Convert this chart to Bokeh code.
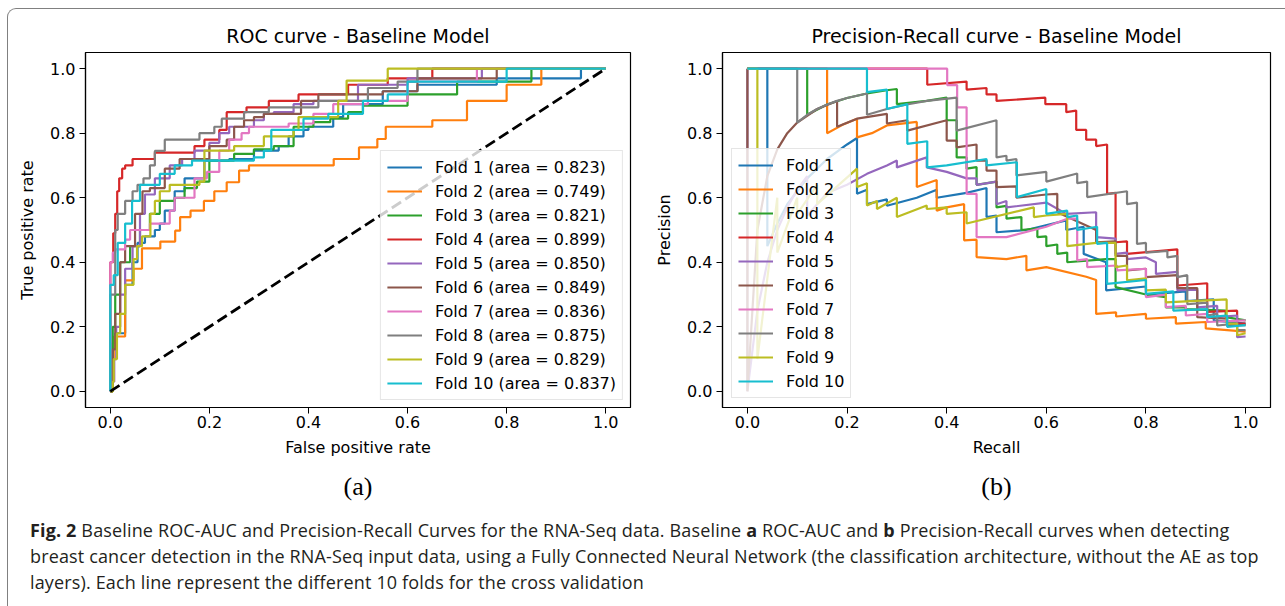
from bokeh.plotting import figure
from bokeh.models import Range1d, FixedTicker, PrintfTickFormatter, Title, Div
from bokeh.layouts import row, column
from bokeh.embed import file_html
from bokeh.resources import INLINE

# ---------------- data ----------------
fold_names = ["Fold 1", "Fold 2", "Fold 3", "Fold 4", "Fold 5",
              "Fold 6", "Fold 7", "Fold 8", "Fold 9", "Fold 10"]
roc_areas = ["0.823", "0.749", "0.821", "0.899", "0.850",
             "0.849", "0.836", "0.875", "0.829", "0.837"]
fold_colors = ["#1f77b4", "#ff7f0e", "#2ca02c", "#d62728", "#9467bd",
               "#8c564b", "#e377c2", "#7f7f7f", "#bcbd22", "#17becf"]
axis_ticks = [0.0, 0.2, 0.4, 0.6, 0.8, 1.0]
chance_x = [0.0, 1.0]
chance_y = [0.0, 1.0]

# ROC curves (top of every vertical jump: false positive rate, true positive rate)
roc_fpr_1 = [0, 0.005, 0.01, 0.03, 0.045, 0.055, 0.07, 0.09, 0.10, 0.11, 0.13, 0.15, 0.19, 0.24, 0.29, 0.34, 0.36, 0.39, 0.40, 0.45, 0.47, 0.55, 0.62, 0.78, 0.95, 1.0]
roc_tpr_1 = [0, 0.15, 0.18, 0.33, 0.40, 0.46, 0.48, 0.50, 0.52, 0.56, 0.62, 0.66, 0.715, 0.72, 0.746, 0.76, 0.79, 0.81, 0.82, 0.85, 0.89, 0.93, 0.95, 0.97, 1.0, 1.0]
roc_fpr_2 = [0, 0.005, 0.007, 0.03, 0.047, 0.064, 0.101, 0.131, 0.141, 0.162, 0.189, 0.21, 0.235, 0.26, 0.28, 0.451, 0.502, 0.539, 0.556, 0.65, 0.72, 0.80, 0.87, 1.0]
roc_tpr_2 = [0, 0.10, 0.17, 0.344, 0.38, 0.443, 0.464, 0.498, 0.54, 0.56, 0.59, 0.62, 0.648, 0.684, 0.70, 0.72, 0.756, 0.782, 0.82, 0.84, 0.90, 0.95, 1.0, 1.0]
roc_fpr_3 = [0, 0.005, 0.01, 0.02, 0.04, 0.06, 0.08, 0.10, 0.13, 0.15, 0.175, 0.20, 0.25, 0.29, 0.33, 0.37, 0.41, 0.444, 0.48, 0.51, 0.60, 0.70, 0.85, 1.0]
roc_tpr_3 = [0, 0.20, 0.30, 0.40, 0.45, 0.50, 0.55, 0.59, 0.60, 0.63, 0.65, 0.715, 0.736, 0.75, 0.76, 0.82, 0.834, 0.845, 0.865, 0.885, 0.92, 0.96, 1.0, 1.0]
roc_fpr_4 = [0, 0, 0.006, 0.010, 0.014, 0.018, 0.024, 0.030, 0.045, 0.09, 0.17, 0.19, 0.22, 0.235, 0.275, 0.32, 0.38, 0.48, 0.56, 0.65, 1.0]
roc_tpr_4 = [0, 0.40, 0.49, 0.55, 0.62, 0.66, 0.69, 0.70, 0.72, 0.74, 0.76, 0.78, 0.81, 0.865, 0.88, 0.90, 0.92, 0.95, 0.97, 1.0, 1.0]
roc_fpr_5 = [0, 0.003, 0.008, 0.012, 0.02, 0.03, 0.045, 0.06, 0.07, 0.09, 0.12, 0.145, 0.17, 0.20, 0.22, 0.24, 0.29, 0.31, 0.33, 0.37, 0.41, 0.50, 0.60, 0.75, 1.0]
roc_tpr_5 = [0, 0.03, 0.10, 0.20, 0.30, 0.38, 0.45, 0.55, 0.61, 0.66, 0.70, 0.72, 0.746, 0.77, 0.80, 0.82, 0.84, 0.86, 0.865, 0.89, 0.90, 0.95, 0.97, 1.0, 1.0]
roc_fpr_6 = [0, 0.005, 0.01, 0.02, 0.03, 0.05, 0.065, 0.08, 0.11, 0.14, 0.20, 0.235, 0.25, 0.27, 0.29, 0.31, 0.385, 0.42, 0.55, 0.62, 0.78, 1.0]
roc_tpr_6 = [0, 0.13, 0.24, 0.40, 0.45, 0.55, 0.62, 0.63, 0.69, 0.72, 0.76, 0.78, 0.82, 0.84, 0.85, 0.86, 0.90, 0.92, 0.93, 0.97, 1.0, 1.0]
roc_fpr_7 = [0, 0, 0.005, 0.01, 0.03, 0.04, 0.08, 0.12, 0.13, 0.17, 0.195, 0.22, 0.24, 0.265, 0.28, 0.36, 0.41, 0.45, 0.52, 0.60, 0.74, 1.0]
roc_tpr_7 = [0, 0.40, 0.43, 0.44, 0.47, 0.50, 0.52, 0.56, 0.60, 0.66, 0.68, 0.746, 0.78, 0.80, 0.82, 0.83, 0.86, 0.89, 0.90, 0.96, 1.0, 1.0]
roc_fpr_8 = [0, 0, 0.01, 0.015, 0.03, 0.045, 0.055, 0.067, 0.08, 0.09, 0.11, 0.18, 0.21, 0.225, 0.27, 0.32, 0.42, 0.52, 0.58, 0.62, 1.0]
roc_tpr_8 = [0, 0.30, 0.50, 0.55, 0.59, 0.62, 0.64, 0.66, 0.70, 0.745, 0.78, 0.80, 0.82, 0.845, 0.865, 0.88, 0.90, 0.94, 0.96, 1.0, 1.0]
roc_fpr_9 = [0, 0.005, 0.007, 0.0135, 0.02, 0.03, 0.047, 0.054, 0.064, 0.081, 0.09, 0.10, 0.12, 0.18, 0.19, 0.25, 0.31, 0.37, 0.38, 0.45, 0.46, 0.477, 0.56, 1.0]
roc_tpr_9 = [0, 0.03, 0.10, 0.18, 0.24, 0.33, 0.41, 0.45, 0.48, 0.55, 0.59, 0.62, 0.64, 0.65, 0.746, 0.76, 0.79, 0.81, 0.85, 0.85, 0.90, 0.963, 1.0, 1.0]
roc_fpr_10 = [0, 0, 0.007, 0.015, 0.03, 0.044, 0.06, 0.10, 0.13, 0.165, 0.29, 0.31, 0.325, 0.39, 0.44, 0.51, 0.56, 0.60, 0.80, 1.0]
roc_tpr_10 = [0, 0.33, 0.36, 0.46, 0.52, 0.59, 0.64, 0.674, 0.70, 0.715, 0.725, 0.746, 0.81, 0.845, 0.86, 0.90, 0.92, 0.96, 1.0, 1.0]

# Precision-Recall curves (recall, precision)
pr_rec_1 = [0, 0.04, 0.04, 0.06, 0.08, 0.10, 0.12, 0.16, 0.20, 0.22, 0.22, 0.24, 0.24, 0.28, 0.28, 0.34, 0.38, 0.38, 0.44, 0.48, 0.48, 0.50, 0.50, 0.56, 0.64, 0.64, 0.675, 0.675, 0.72, 0.72, 0.80, 0.80, 0.88, 0.88, 0.936, 0.936, 1.0]
pr_pre_1 = [1, 1, 0.45, 0.52, 0.58, 0.62, 0.66, 0.72, 0.765, 0.785, 0.612, 0.625, 0.58, 0.595, 0.575, 0.60, 0.625, 0.60, 0.615, 0.63, 0.54, 0.545, 0.493, 0.50, 0.53, 0.50, 0.51, 0.426, 0.40, 0.313, 0.325, 0.30, 0.31, 0.28, 0.285, 0.22, 0.21]
pr_rec_2 = [0, 0.16, 0.16, 0.19, 0.22, 0.22, 0.25, 0.28, 0.34, 0.34, 0.38, 0.38, 0.40, 0.435, 0.435, 0.46, 0.46, 0.52, 0.56, 0.56, 0.60, 0.68, 0.70, 0.70, 0.74, 0.74, 0.80, 0.80, 0.86, 0.86, 0.92, 0.92, 1.0]
pr_pre_2 = [1, 1, 0.80, 0.825, 0.845, 0.787, 0.80, 0.824, 0.835, 0.633, 0.655, 0.56, 0.57, 0.58, 0.468, 0.47, 0.416, 0.41, 0.42, 0.375, 0.385, 0.355, 0.345, 0.24, 0.245, 0.232, 0.24, 0.225, 0.23, 0.21, 0.215, 0.195, 0.185]
pr_rec_3 = [0, 0.12, 0.12, 0.16, 0.20, 0.24, 0.28, 0.30, 0.30, 0.36, 0.40, 0.40, 0.42, 0.42, 0.44, 0.44, 0.46, 0.46, 0.50, 0.50, 0.52, 0.52, 0.55, 0.55, 0.582, 0.582, 0.60, 0.60, 0.622, 0.622, 0.642, 0.642, 0.72, 0.739, 0.739, 0.80, 0.84, 0.84, 0.88, 0.88, 0.96, 0.96, 1.0]
pr_pre_3 = [1, 1, 0.857, 0.889, 0.909, 0.923, 0.933, 0.937, 0.89, 0.90, 0.91, 0.84, 0.84, 0.725, 0.725, 0.69, 0.695, 0.64, 0.65, 0.57, 0.575, 0.535, 0.54, 0.50, 0.505, 0.478, 0.48, 0.45, 0.455, 0.426, 0.43, 0.40, 0.41, 0.41, 0.323, 0.30, 0.292, 0.26, 0.26, 0.255, 0.25, 0.23, 0.22]
pr_rec_4 = [0, 0.361, 0.361, 0.44, 0.44, 0.48, 0.48, 0.50, 0.50, 0.598, 0.598, 0.64, 0.64, 0.66, 0.66, 0.68, 0.68, 0.70, 0.70, 0.722, 0.722, 0.739, 0.739, 0.762, 0.762, 0.863, 0.863, 0.923, 0.923, 0.983, 0.983, 1.0]
pr_pre_4 = [1, 1, 0.95, 0.96, 0.935, 0.94, 0.92, 0.92, 0.90, 0.91, 0.89, 0.89, 0.865, 0.87, 0.81, 0.81, 0.78, 0.78, 0.76, 0.765, 0.612, 0.615, 0.462, 0.465, 0.426, 0.44, 0.328, 0.335, 0.246, 0.25, 0.21, 0.21]
pr_rec_5 = [0, 0, 0.02, 0.04, 0.06, 0.08, 0.10, 0.12, 0.12, 0.16, 0.20, 0.24, 0.28, 0.30, 0.30, 0.36, 0.36, 0.40, 0.44, 0.46, 0.46, 0.50, 0.50, 0.52, 0.52, 0.60, 0.64, 0.70, 0.70, 0.739, 0.739, 0.762, 0.762, 0.80, 0.82, 0.82, 0.863, 0.863, 0.903, 0.903, 0.943, 0.943, 0.983, 0.983, 1.0]
pr_pre_5 = [1, 0, 0.25, 0.40, 0.50, 0.57, 0.625, 0.667, 0.545, 0.615, 0.64, 0.674, 0.70, 0.715, 0.694, 0.725, 0.694, 0.68, 0.66, 0.66, 0.64, 0.65, 0.58, 0.59, 0.57, 0.585, 0.55, 0.555, 0.478, 0.473, 0.426, 0.43, 0.41, 0.415, 0.40, 0.364, 0.37, 0.313, 0.315, 0.26, 0.265, 0.23, 0.235, 0.168, 0.17]
pr_rec_6 = [0, 0, 0.02, 0.04, 0.06, 0.08, 0.10, 0.14, 0.18, 0.18, 0.22, 0.28, 0.28, 0.321, 0.321, 0.40, 0.40, 0.42, 0.42, 0.46, 0.46, 0.48, 0.48, 0.50, 0.50, 0.54, 0.54, 0.60, 0.622, 0.622, 0.70, 0.70, 0.739, 0.739, 0.762, 0.762, 0.80, 0.80, 0.863, 0.863, 0.903, 0.903, 0.963, 0.963, 1.0]
pr_pre_6 = [1, 0, 0.5, 0.667, 0.75, 0.8, 0.833, 0.875, 0.9, 0.82, 0.845, 0.86, 0.83, 0.84, 0.808, 0.84, 0.777, 0.777, 0.756, 0.765, 0.715, 0.715, 0.684, 0.684, 0.633, 0.635, 0.60, 0.61, 0.612, 0.555, 0.50, 0.462, 0.465, 0.42, 0.42, 0.375, 0.38, 0.354, 0.36, 0.32, 0.32, 0.23, 0.225, 0.205, 0.205]
pr_rec_7 = [0, 0.401, 0.401, 0.421, 0.421, 0.44, 0.44, 0.46, 0.46, 0.50, 0.52, 0.60, 0.642, 0.662, 0.662, 0.682, 0.682, 0.742, 0.742, 0.80, 0.80, 0.84, 0.84, 0.88, 0.88, 0.923, 0.923, 1.0]
pr_pre_7 = [1, 1, 0.949, 0.949, 0.88, 0.88, 0.612, 0.612, 0.478, 0.478, 0.478, 0.51, 0.535, 0.535, 0.406, 0.41, 0.385, 0.39, 0.375, 0.38, 0.292, 0.30, 0.261, 0.265, 0.235, 0.24, 0.215, 0.22]
pr_rec_8 = [0, 0.10, 0.10, 0.12, 0.14, 0.16, 0.18, 0.20, 0.24, 0.24, 0.28, 0.32, 0.36, 0.42, 0.42, 0.50, 0.50, 0.52, 0.52, 0.54, 0.54, 0.60, 0.60, 0.662, 0.662, 0.682, 0.682, 0.762, 0.762, 0.782, 0.782, 0.80, 0.80, 0.843, 0.843, 0.863, 0.863, 0.883, 0.883, 0.923, 0.923, 0.943, 0.943, 0.983, 0.983, 1.0]
pr_pre_8 = [1, 1, 0.833, 0.857, 0.875, 0.889, 0.90, 0.909, 0.923, 0.857, 0.875, 0.889, 0.90, 0.91, 0.808, 0.84, 0.725, 0.73, 0.715, 0.72, 0.669, 0.68, 0.65, 0.675, 0.645, 0.65, 0.602, 0.62, 0.58, 0.585, 0.457, 0.46, 0.43, 0.435, 0.415, 0.42, 0.354, 0.36, 0.27, 0.275, 0.235, 0.24, 0.204, 0.21, 0.19, 0.19]
pr_rec_9 = [0, 0.02, 0.02, 0.06, 0.06, 0.10, 0.10, 0.14, 0.14, 0.22, 0.22, 0.24, 0.24, 0.26, 0.26, 0.30, 0.30, 0.36, 0.36, 0.40, 0.40, 0.44, 0.44, 0.575, 0.575, 0.60, 0.642, 0.642, 0.70, 0.739, 0.739, 0.762, 0.762, 0.80, 0.80, 0.84, 0.84, 0.962, 0.962, 0.983, 0.983, 1.0]
pr_pre_9 = [1, 1, 0.10, 0.60, 0.43, 0.60, 0.55, 0.64, 0.58, 0.69, 0.633, 0.645, 0.576, 0.59, 0.565, 0.60, 0.54, 0.576, 0.565, 0.57, 0.55, 0.555, 0.52, 0.57, 0.54, 0.545, 0.55, 0.45, 0.46, 0.46, 0.385, 0.39, 0.344, 0.35, 0.313, 0.315, 0.276, 0.285, 0.21, 0.21, 0.174, 0.18]
pr_rec_10 = [0, 0.24, 0.24, 0.28, 0.28, 0.321, 0.321, 0.361, 0.361, 0.40, 0.48, 0.48, 0.541, 0.541, 0.60, 0.60, 0.642, 0.642, 0.662, 0.662, 0.702, 0.702, 0.722, 0.722, 0.80, 0.80, 0.855, 0.855, 0.923, 0.923, 0.963, 0.963, 1.0]
pr_pre_10 = [1, 1, 0.927, 0.935, 0.875, 0.89, 0.767, 0.775, 0.694, 0.70, 0.72, 0.70, 0.71, 0.602, 0.627, 0.55, 0.56, 0.54, 0.545, 0.50, 0.51, 0.457, 0.46, 0.333, 0.345, 0.302, 0.31, 0.25, 0.255, 0.23, 0.235, 0.20, 0.205]

roc_fpr = [roc_fpr_1, roc_fpr_2, roc_fpr_3, roc_fpr_4, roc_fpr_5, roc_fpr_6, roc_fpr_7, roc_fpr_8, roc_fpr_9, roc_fpr_10]
roc_tpr = [roc_tpr_1, roc_tpr_2, roc_tpr_3, roc_tpr_4, roc_tpr_5, roc_tpr_6, roc_tpr_7, roc_tpr_8, roc_tpr_9, roc_tpr_10]
pr_rec = [pr_rec_1, pr_rec_2, pr_rec_3, pr_rec_4, pr_rec_5, pr_rec_6, pr_rec_7, pr_rec_8, pr_rec_9, pr_rec_10]
pr_pre = [pr_pre_1, pr_pre_2, pr_pre_3, pr_pre_4, pr_pre_5, pr_pre_6, pr_pre_7, pr_pre_8, pr_pre_9, pr_pre_10]

FONT = "DejaVu Sans"


def style(p, xlabel, ylabel, title, sub):
    p.title.text = title
    p.title.align = "center"
    p.title.text_font = FONT
    p.title.text_font_size = "19px"
    p.title.text_font_style = "normal"
    p.title.text_color = "black"
    p.title.standoff = 11
    p.grid.visible = False
    p.outline_line_color = "black"
    p.outline_line_width = 1.2
    for ax in (p.xaxis, p.yaxis):
        ax.ticker = FixedTicker(ticks=axis_ticks)
        ax.formatter = PrintfTickFormatter(format="%.1f")
        ax.major_tick_in = 0
        ax.major_tick_out = 6
        ax.minor_tick_line_color = None
        ax.axis_line_color = "black"
        ax.axis_line_width = 1.2
        ax.major_tick_line_color = "black"
        ax.major_label_text_font = FONT
        ax.major_label_text_font_size = "16px"
        ax.major_label_text_color = "black"
        ax.axis_label_text_font = FONT
        ax.axis_label_text_font_size = "16px"
        ax.axis_label_text_font_style = "normal"
        ax.axis_label_text_color = "black"
    p.xaxis.major_label_standoff = 2
    p.yaxis.major_label_standoff = 4
    p.xaxis.axis_label_standoff = 7
    p.yaxis.axis_label_standoff = 10
    p.xaxis.axis_label = xlabel
    p.yaxis.axis_label = ylabel
    p.add_layout(Title(text=sub, align="center", text_font="Liberation Serif",
                       text_font_size="26px", text_font_style="normal",
                       text_color="black", standoff=21), "below")


def legend_style(p):
    lg = p.legend[0]
    lg.label_text_font = FONT
    lg.label_text_font_size = "16px"
    lg.label_text_color = "black"
    lg.glyph_width = 35
    lg.glyph_height = 20
    lg.label_height = 20
    lg.label_standoff = 13
    lg.spacing = 4
    lg.padding = 6
    lg.border_line_color = "#cccccc"
    lg.border_line_width = 1
    lg.background_fill_alpha = 0.8
    return lg


# ---------------- ROC figure ----------------
p1 = figure(frame_width=545, frame_height=355, min_border_left=85, min_border_right=20,
            min_border_top=52, min_border_bottom=113,
            x_range=Range1d(-0.05, 1.05), y_range=Range1d(-0.05, 1.05),
            output_backend="svg", toolbar_location=None, background_fill_color="white")
for i in range(10):
    p1.step(roc_fpr[i], roc_tpr[i], mode="after", line_color=fold_colors[i], line_width=2.2,
            legend_label=f"{fold_names[i]} (area = {roc_areas[i]})")
p1.line(chance_x, chance_y, line_color="black", line_width=2.8, line_dash="11 5")
style(p1, "False positive rate", "True positive rate", "ROC curve - Baseline Model", "(a)")
lg1 = legend_style(p1)
lg1.location = "bottom_right"
lg1.margin = 7

# ---------------- Precision-Recall figure ----------------
p2 = figure(frame_width=548, frame_height=355, min_border_left=72, min_border_right=15,
            min_border_top=52, min_border_bottom=113,
            x_range=Range1d(-0.05, 1.05), y_range=Range1d(-0.05, 1.05),
            output_backend="svg", toolbar_location=None, background_fill_color="white")
for i in range(10):
    p2.line(pr_rec[i], pr_pre[i], line_color=fold_colors[i], line_width=2.2,
            legend_label=fold_names[i])
style(p2, "Recall", "Precision", "Precision-Recall curve - Baseline Model", "(b)")
lg2 = legend_style(p2)
lg2.location = "bottom_left"
lg2.margin = 9

# ---------------- caption ----------------
caption = (
    '<div style="font-family:\'Open Sans\';font-size:18px;letter-spacing:0.15px;line-height:26px;'
    'color:#231f20;white-space:nowrap;padding-left:25px;margin-top:-8px;">'
    '<b>Fig. 2</b> Baseline ROC-AUC and Precision-Recall Curves for the RNA-Seq data. Baseline '
    '<b>a</b> ROC-AUC and <b>b</b> Precision-Recall curves when detecting<br>'
    'breast cancer detection in the RNA-Seq input data, using a Fully Connected Neural Network '
    '(the classification architecture, without the AE as top<br>'
    'layers). Each line represent the different 10 folds for the cross validation'
    '</div>'
)
cap = Div(text=caption, width=1285, height=86)

frame_box = Div(text="", width=1283, height=603,
                styles={"position": "absolute", "left": "2px", "top": "3px",
                        "border-top": "1.5px solid #808080", "border-left": "1.5px solid #808080",
                        "border-top-left-radius": "9px", "pointer-events": "none",
                        "box-sizing": "border-box"})

layout = column(row(p1, p2), cap, frame_box)

open("out.html", "w").write(file_html(layout, INLINE))
